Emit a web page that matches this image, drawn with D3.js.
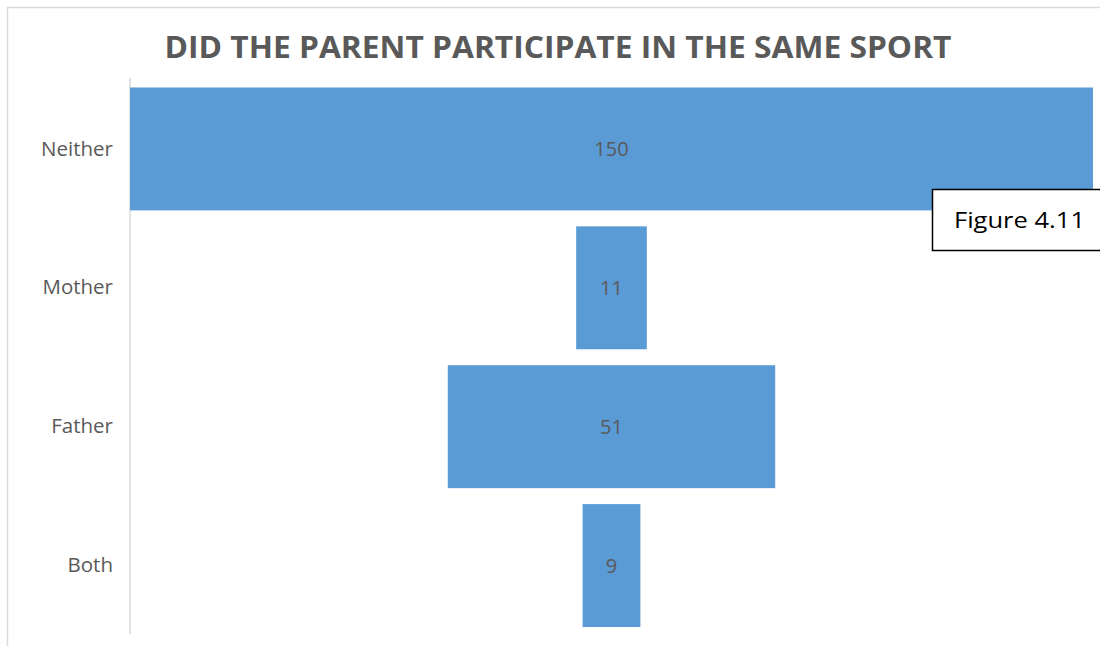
<!DOCTYPE html>
<html><head><meta charset="utf-8">
<script src="https://cdn.jsdelivr.net/npm/d3@7"></script>
<style>body{margin:0;background:#fff;}svg{display:block;}</style>
</head><body>
<svg id="c" width="1100" height="646"></svg>
<script>
const categories = ["Neither", "Mother", "Father", "Both"];
const values = [150, 11, 51, 9];
const titleText = "DID THE PARENT PARTICIPATE IN THE SAME SPORT";
const noteText = "Figure 4.11";

const svg = d3.select("#c");
// outer chart border
svg.append("rect").attr("x",7.5).attr("y",7.5).attr("width",1200).attr("height",800)
  .attr("fill","none").attr("stroke","#d9d9d9").attr("stroke-width",1.5);

const plotLeft = 130, plotRight = 1093;
const y = d3.scaleBand().domain(categories).range([79.5, 635]).paddingInner(0.115).paddingOuter(0.0575);
const w = d3.scaleLinear().domain([0, d3.max(values)]).range([0, plotRight - plotLeft]);
const cx = (plotLeft + plotRight) / 2;

svg.append("text").attr("x", 558).attr("y", 58).attr("text-anchor","middle")
  .attr("font-family","Open Sans, sans-serif").attr("font-weight","bold").attr("font-size",30)
  .attr("fill","#595959").attr("textLength",787).attr("lengthAdjust","spacingAndGlyphs").text(titleText);

// axis line
svg.append("line").attr("x1",plotLeft).attr("x2",plotLeft).attr("y1",78).attr("y2",634)
  .attr("stroke","#d9d9d9").attr("stroke-width",1.5);

const axis = d3.axisLeft(y).tickSize(0).tickPadding(17);
const ag = svg.append("g").attr("transform",`translate(${plotLeft},0)`).call(axis);
ag.select(".domain").remove();
ag.selectAll("text").attr("font-family","Open Sans, sans-serif").attr("font-size",20.5).attr("fill","#595959");

svg.selectAll("rect.bar").data(values).join("rect").attr("class","bar")
  .attr("x",(d)=>cx - w(d)/2).attr("width",(d)=>w(d))
  .attr("y",(d,i)=>y(categories[i])).attr("height",y.bandwidth())
  .attr("fill","#5b9bd5");

svg.selectAll("text.lbl").data(values).join("text").attr("class","lbl")
  .attr("x",cx).attr("y",(d,i)=>y(categories[i])+y.bandwidth()/2)
  .attr("dy","0.35em").attr("text-anchor","middle")
  .attr("font-family","Open Sans, sans-serif").attr("font-size",20).attr("fill","#595959")
  .text(d=>d);

// note box
svg.append("rect").attr("x",932.5).attr("y",189.5).attr("width",200).attr("height",61)
  .attr("fill","#fff").attr("stroke","#000").attr("stroke-width",1.5);
svg.append("text").attr("x",954).attr("y",228).attr("font-family","Open Sans, sans-serif")
  .attr("font-size",21).attr("fill","#000").attr("textLength",131).attr("lengthAdjust","spacingAndGlyphs").text(noteText);
</script>
</body></html>
